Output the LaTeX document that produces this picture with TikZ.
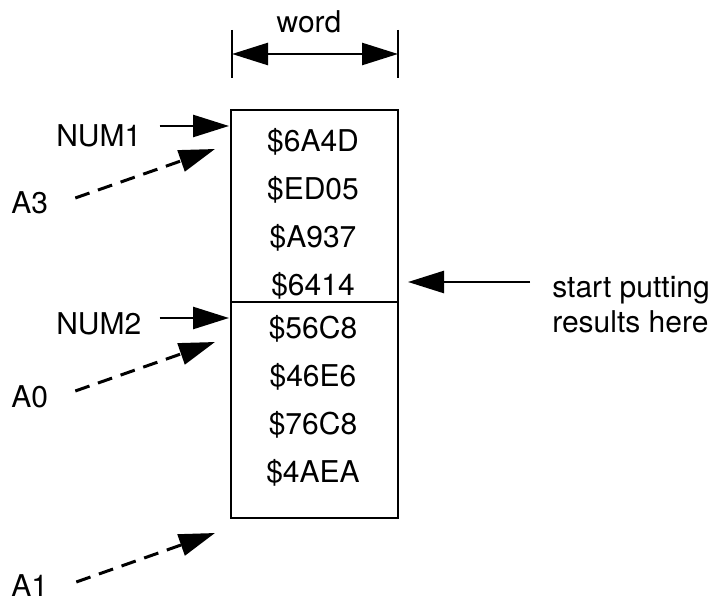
\documentclass[tikz,border=0pt]{standalone}
\usepackage{fontspec}
\setmainfont{TeX Gyre Heros}
\usetikzlibrary{arrows.meta,positioning}
\tikzset{
  cell/.style={draw, inner sep=0pt, outer sep=0pt, minimum width=167pt, anchor=north west},
  lbl/.style={inner sep=0pt, anchor=base west},
  ptr/.style={->, dash pattern=on 15pt off 9pt, line width=3pt}
}

\begin{document}
\begin{tikzpicture}[x=1pt, y=-1pt, >={Triangle[length=36pt,width=22pt]}, line width=2.6pt, font=\fontsize{30}{36}\selectfont]
\useasboundingbox (0,0) rectangle (712,601);
% memory block, two numbers of four words
\node[cell, minimum height=192pt] (upper) at (231,110) {};
\node[cell, minimum height=216pt] (lower) at (231,302) {};
\foreach \v [count=\i] in {6A4D,ED05,A937,6414} \node[anchor=base, inner sep=0pt] (u\i) at (313,{152+47.7*(\i-1)}) {\$\v};
\foreach \v [count=\i] in {56C8,46E6,76C8,4AEA} \node[anchor=base, inner sep=0pt] (l\i) at (313,{339+47.7*(\i-1)}) {\$\v};
% width of a word
\node[anchor=base, inner sep=0pt] (word) at (309,33) {word};
\draw (232,30) -- (232,78); \draw (398,30) -- (398,78);
\coordinate (wl) at (232,54); \coordinate (wr) at (398,54);
\draw[<->] (wl) -- (wr);
% labels
\node[lbl] (num1) at (55,147) {NUM1};
\node[lbl] (num2) at (55,335) {NUM2};
\coordinate (n1) at (229,126); \coordinate (n2) at (229,318);
\draw[->] ([shift={(17,-21)}]num1.base east) -- (n1);
\draw[->] ([shift={(17,-17)}]num2.base east) -- (n2);
% address registers
\node[lbl] (a3) at (10,214) {A3};
\node[lbl] (a0) at (10,407) {A0};
\node[lbl] (a1) at (10,596) {A1};
\coordinate (t3) at (215,149); \coordinate (t0) at (215,342); \coordinate (t1) at (215,533);
\draw[ptr] ([shift={(26,-16)}]a3.base east) -- (t3);
\draw[ptr] ([shift={(26,-16)}]a0.base east) -- (t0);
\draw[ptr] ([shift={(27,-14)}]a1.base east) -- (t1);
% result pointer
\node[lbl] (st1) at (551,298) {start putting};
\node[lbl] (st2) at (551,333) {results here};
\coordinate (r) at (408,282);
\draw[->] ([shift={(-21,-16)}]st1.base west) -- (r);
\end{tikzpicture}
\end{document}
